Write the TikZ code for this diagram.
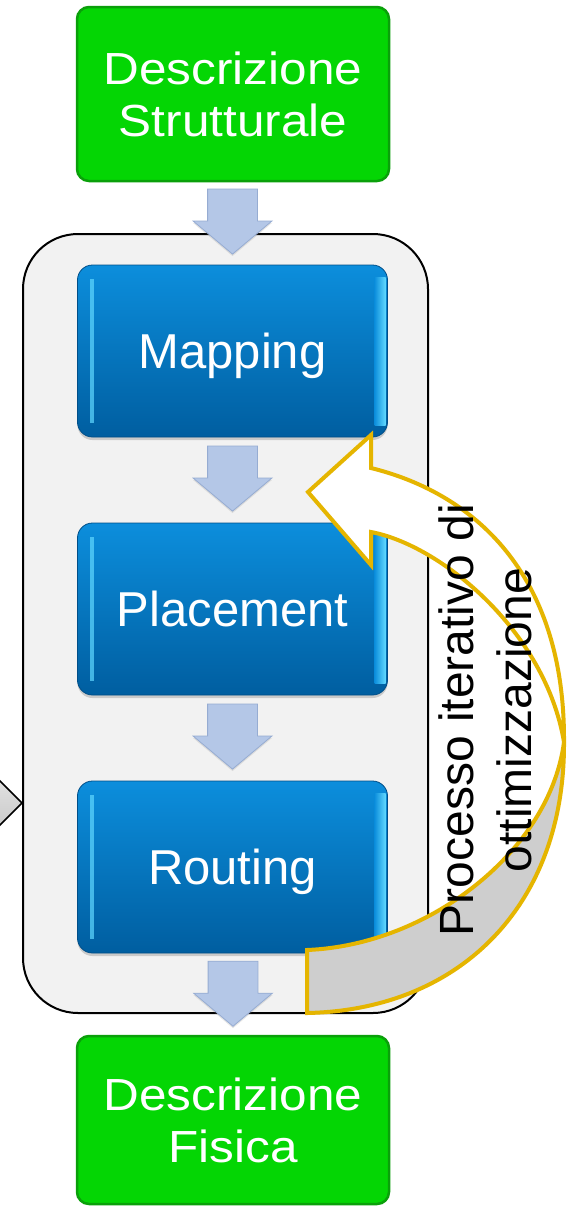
\documentclass[tikz,border=0pt]{standalone}
\usepackage{fontspec}
\newfontfamily\boxfont{Liberation Sans}
\newfontfamily\widefont[FakeStretch=1.1]{Liberation Sans}
\usetikzlibrary{positioning,calc,shapes.arrows,shadows}
\definecolor{descgreen}{RGB}{4,214,4}
\definecolor{descline}{RGB}{10,160,10}
\definecolor{phasetop}{RGB}{12,142,220}
\definecolor{phasebottom}{RGB}{0,94,160}
\definecolor{phaseline}{RGB}{0,78,136}
\definecolor{bevel}{RGB}{96,216,255}
\definecolor{flowblue}{RGB}{180,199,231}
\definecolor{flowline}{RGB}{150,172,210}
\definecolor{panel}{RGB}{242,242,242}
\definecolor{loopgold}{RGB}{229,181,0}
\definecolor{loopgray}{RGB}{206,206,206}
\tikzset{
  descbox/.style={rectangle, rounded corners=12pt, fill=descgreen, draw=descline, line width=2.5pt,
    text=white, align=center, minimum width=312pt,
    font=\widefont\fontsize{45}{52}\selectfont},
  phasebox/.style={rectangle, rounded corners=15pt, top color=phasetop, bottom color=phasebottom,
    draw=phaseline, line width=0.8pt, text=white, minimum width=310pt, minimum height=172pt,
    text height=35pt, text depth=0pt, font=\boxfont\fontsize{49}{58}\selectfont,
    drop shadow={opacity=0.35, shadow xshift=0pt, shadow yshift=-3pt},
    path picture={
      \fill[sharp corners, bevel, opacity=0.7]
        ([xshift=12pt,yshift=-14pt]path picture bounding box.north west) rectangle
        ([xshift=16pt,yshift=14pt]path picture bounding box.south west);
      \shade[sharp corners, left color=phasetop, right color=bevel]
        ([xshift=-13pt,yshift=-12pt]path picture bounding box.north east) rectangle
        ([xshift=-2pt,yshift=12pt]path picture bounding box.south east);
    }},
  flowarrow/.style={single arrow, shape border rotate=270, single arrow head extend=14.5pt,
    single arrow tip angle=100, minimum height=65pt, minimum width=78pt,
    inner xsep=24.5pt, inner ysep=0pt, anchor=tip,
    fill=flowblue, draw=flowline, line width=0.8pt,
    drop shadow={opacity=0.2, shadow xshift=0pt, shadow yshift=-2pt}},
  panelbox/.style={rectangle, rounded corners=55pt, fill=panel, draw=black, line width=2pt},
  looplabel/.style={align=center, text=black, font=\boxfont\fontsize{48}{58}\selectfont}
}

\begin{document}
\begin{tikzpicture}[x=1pt, y=-1pt]
\useasboundingbox (0,0) rectangle (566,1208);
\fill[white] (0,0) rectangle (566,1208);

% incoming arrow, cut by the border
\draw[line width=1.5pt, top color=gray!20, bottom color=gray!45] (-12,769) -- (22,803) -- (-12,837);

% panel
\node[panelbox, minimum width=405pt, minimum height=779pt] (panel) at (225.5,623.5) {};

% boxes
\node[descbox, minimum height=174pt] (descstrutt) at (233,94) {Descrizione\\Strutturale};
\node[phasebox] (mapping) at (232.5,351) {Mapping};
\node[phasebox] (placement) at (232.5,609) {Placement};
\node[phasebox] (routing) at (232.5,867) {Routing};
\node[descbox, minimum height=168pt] (descfisica) at (233,1120) {Descrizione\\Fisica};

% flow
\node[flowarrow] (flow1) at ([yshift=10pt]mapping.north) {};
\node[flowarrow] (flow2) at ([yshift=11pt]placement.north) {};
\node[flowarrow] (flow3) at ([yshift=11pt]routing.north) {};
\node[flowarrow] (flow4) at ([yshift=8pt]descfisica.north) {};

% loop arrow
\coordinate (loopturn) at (564,742);
\begin{scope}[draw=loopgold, line width=4pt, line join=miter]
\filldraw[fill=loopgray] (307,950) .. controls (430,945) and (550,850) .. (loopturn)
  .. controls (565,905) and (460,1010) .. (307,1013) -- cycle;
\filldraw[fill=white] (308,492) -- (371,435) -- (371,468)
  .. controls (480,495) and (565,580) .. (loopturn)
  .. controls (545,630) and (440,545) .. (371,532) -- (371,565) -- cycle;
\end{scope}
\node[looplabel, rotate=90] (looptext) at (485,720) {Processo iterativo di\\ottimizzazione};
\end{tikzpicture}
\end{document}
